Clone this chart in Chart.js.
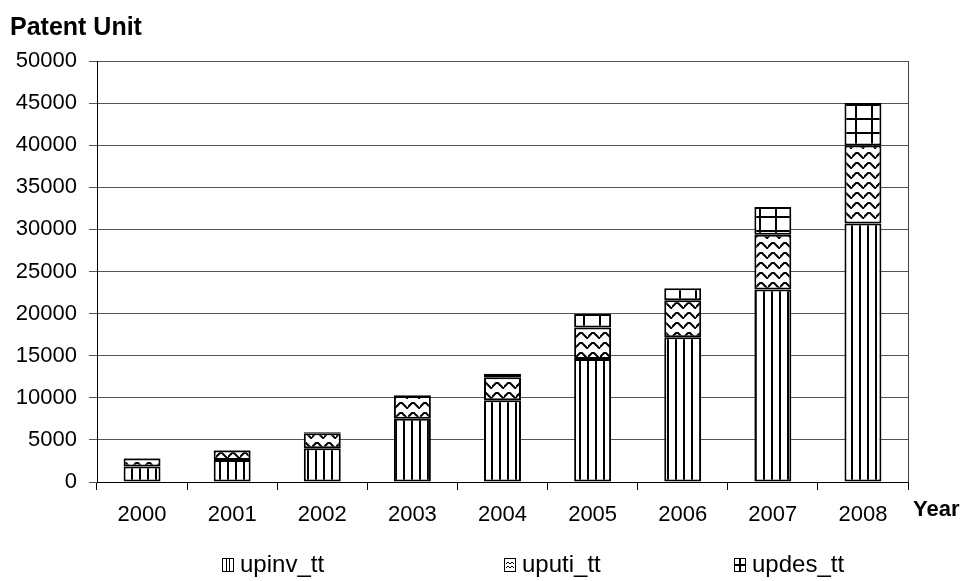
<!DOCTYPE html>
<html>
<head>
<meta charset="utf-8">
<script src="https://cdn.jsdelivr.net/npm/chart.js@4.4.1/dist/chart.umd.min.js"></script>
<style>
  html, body { margin: 0; padding: 0; background: #fff; }
  #wrap { width: 960px; height: 581px; position: relative; }
</style>
</head>
<body>
<div id="wrap"><canvas id="patentChart" width="960" height="581"></canvas></div>
<script>
const years = ["2000", "2001", "2002", "2003", "2004", "2005", "2006", "2007", "2008"];
const upinv = [1850, 2600, 4000, 7500, 9700, 14600, 17200, 22850, 30700];
const uputi = [950, 1150, 1800, 2700, 2750, 3750, 4400, 6500, 9250];
const updes = [50, 50, 100, 100, 400, 1600, 1400, 3300, 5050];
const seriesNames = ["upinv_tt", "uputi_tt", "updes_tt"];

const FONT = "'Liberation Sans', Arial, sans-serif";

function makeTile(w, h, draw) {
  const c = document.createElement("canvas");
  c.width = w;
  c.height = h;
  const g = c.getContext("2d");
  g.fillStyle = "#fff";
  g.fillRect(0, 0, w, h);
  g.strokeStyle = "#000";
  g.fillStyle = "#000";
  draw(g);
  return c;
}

const ctx = document.getElementById("patentChart").getContext("2d");

// vertical stripes
const stripes = ctx.createPattern(makeTile(8, 4, g => {
  g.fillRect(3, 0, 2, 4);
}), "repeat");

// zigzag waves
const waves = ctx.createPattern(makeTile(12, 10, g => {
  g.lineWidth = 2;
  g.beginPath();
  g.moveTo(-1, 8);
  g.lineTo(4, 3);
  g.lineTo(6, 3);
  g.lineTo(11, 8);
  g.lineTo(13, 8);
  g.stroke();
}), "repeat");

// square grid
const squares = ctx.createPattern(makeTile(16, 14, g => {
  g.fillRect(7, 0, 2, 14);
  g.fillRect(0, 6, 16, 2);
}), "repeat");

const fills = [stripes, waves, squares];
const legendX = [222, 504, 734];

// small legend glyphs, one per series
const glyphs = [
  (c, x, y) => {
    c.strokeRect(x + 0.5, y + 0.5, 11, 13);
    c.fillRect(x + 4, y, 1, 14);
    c.fillRect(x + 7, y, 1, 14);
  },
  (c, x, y) => {
    c.strokeRect(x + 0.5, y + 0.5, 11, 13);
    c.beginPath();
    c.moveTo(x + 2, y + 6); c.lineTo(x + 4, y + 4); c.lineTo(x + 6, y + 6); c.lineTo(x + 8, y + 4); c.lineTo(x + 10, y + 6);
    c.moveTo(x + 2, y + 10); c.lineTo(x + 4, y + 8); c.lineTo(x + 6, y + 10); c.lineTo(x + 8, y + 8); c.lineTo(x + 10, y + 10);
    c.stroke();
  },
  (c, x, y) => {
    c.strokeRect(x + 0.5, y + 0.5, 11, 13);
    c.fillRect(x + 5, y, 2, 14);
    c.fillRect(x, y + 6, 12, 2);
  }
];

const extras = {
  id: "extras",
  afterDraw(chart) {
    const c = chart.ctx;
    const a = chart.chartArea;
    c.save();
    // right border of plot
    c.strokeStyle = "#404040";
    c.lineWidth = 1;
    c.beginPath();
    c.moveTo(a.right + 0.5, a.top);
    c.lineTo(a.right + 0.5, a.bottom);
    c.stroke();

    c.fillStyle = "#000";
    c.textBaseline = "middle";
    c.textAlign = "left";
    c.font = "bold 25px " + FONT;
    c.fillText("Patent Unit", 10, 28);
    c.font = "bold 22px " + FONT;
    c.fillText("Year", 913, 510);

    // legend
    c.font = "24px " + FONT;
    chart.data.datasets.forEach((ds, i) => {
      const x = legendX[i];
      const y = 565;
      c.fillStyle = "#fff";
      c.fillRect(x, y - 7, 12, 14);
      c.fillStyle = "#000";
      c.strokeStyle = "#000";
      c.lineWidth = 1;
      glyphs[i](c, x, y - 7);
      c.fillText(ds.label, x + 18, y);
    });
    c.restore();
  }
};

new Chart(ctx, {
  type: "bar",
  data: {
    labels: years,
    datasets: [upinv, uputi, updes].map((vals, i) => ({
      label: seriesNames[i],
      data: vals,
      backgroundColor: fills[i],
      borderColor: "#000",
      borderWidth: 2,
      borderSkipped: false,
      categoryPercentage: 1,
      barPercentage: 0.41
    }))
  },
  options: {
    responsive: false,
    animation: false,
    devicePixelRatio: 1,
    layout: { padding: { top: 61, right: 52, bottom: 0, left: 0 } },
    plugins: {
      legend: { display: false },
      tooltip: { enabled: false }
    },
    scales: {
      x: {
        stacked: true,
        afterFit: s => { s.height = 99; },
        grid: { display: true, drawOnChartArea: false, drawTicks: true, tickLength: 8, color: "#000", offset: true },
        border: { display: true, color: "#000", width: 1 },
        ticks: { color: "#000", font: { family: FONT, size: 22 }, padding: 12, maxRotation: 0 }
      },
      y: {
        stacked: true,
        min: 0,
        max: 50000,
        afterFit: s => { s.width = 97; },
        grid: { color: "#555", lineWidth: 1, tickLength: 8 },
        border: { display: true, color: "#000", width: 1 },
        ticks: { stepSize: 5000, color: "#000", font: { family: FONT, size: 22 }, padding: 12, callback: v => String(v) }
      }
    }
  },
  plugins: [extras]
});
</script>
</body>
</html>
